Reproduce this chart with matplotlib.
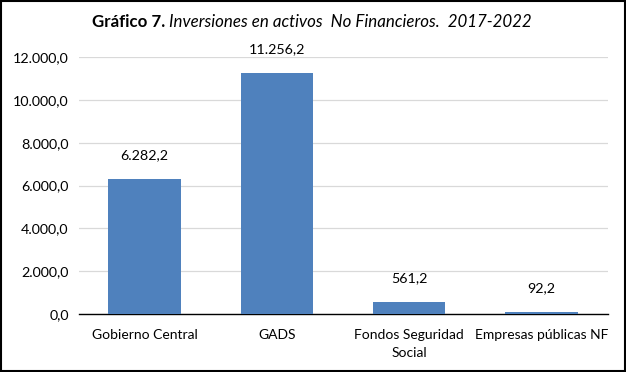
import matplotlib
matplotlib.use("Agg")
import matplotlib.pyplot as plt
from matplotlib.patches import Rectangle

categories = ["Gobierno Central", "GADS", "Fondos Seguridad\nSocial", "Empresas públicas NF"]
values = [6282.2, 11256.2, 561.2, 92.2]
yticks = [0, 2000, 4000, 6000, 8000, 10000, 12000]


def fmt(v):
    # spanish style: 12.000,0
    s = f"{v:,.1f}"
    return s.replace(",", "X").replace(".", ",").replace("X", ".")


plt.rcParams["font.family"] = ["Lato", "DejaVu Sans"]

fig = plt.figure(figsize=(6.26, 3.72), dpi=100)
ax = fig.add_axes([78.5 / 626, 1 - 314 / 372, 529 / 626, 257 / 372])

x = range(len(categories))
ax.bar(x, values, width=0.55, color="#4F81BD", zorder=3)
for i, v in zip(x, values):
    ax.annotate(fmt(v), (i, v), xytext=(0, 13), textcoords="offset points",
                ha="center", va="bottom", fontsize=10.3, color="#000000")

ax.set_xlim(-0.5, len(categories) - 0.5)
ax.set_ylim(0, 12000)
ax.set_yticks(yticks)
ax.set_yticklabels([fmt(t) for t in yticks], fontsize=10.3)
ax.set_xticks(list(x))
ax.set_xticklabels(categories, fontsize=10, linespacing=1.55)
for lab in ax.get_xticklabels():
    lab.set_multialignment("center")
ax.tick_params(axis="y", length=0, pad=7)
ax.tick_params(axis="x", length=0, pad=11)
ax.grid(axis="y", color="#D9D9D9", lw=0.9, zorder=0)
for s in ("top", "right", "left"):
    ax.spines[s].set_visible(False)
ax.spines["bottom"].set_color("#000000")
ax.spines["bottom"].set_linewidth(1.0)

# title: bold part + italic part
t1 = fig.text(92 / 626, 1 - 22 / 372, "Gráfico 7.", ha="left", va="center",
              fontsize=12.2, fontweight="bold")
fig.canvas.draw()
bb = t1.get_window_extent()
fig.text(bb.x1 / fig.bbox.width + 0.006, 1 - 22 / 372,
         "Inversiones en activos  No Financieros.  2017-2022",
         ha="left", va="center", fontsize=12.2, style="italic")

fig.patches.append(Rectangle((0.002, 0.003), 0.996, 0.994, transform=fig.transFigure,
                             fill=False, edgecolor="#000000", lw=1.5))

fig.savefig("out.png", dpi=100, facecolor="white")
